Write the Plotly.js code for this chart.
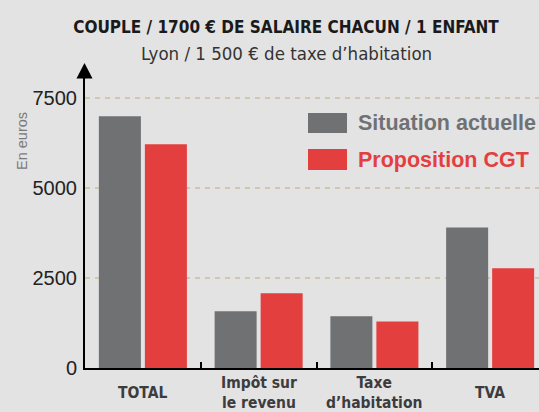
<!DOCTYPE html>
<html>
<head>
<meta charset="utf-8">
<script src="https://cdn.plot.ly/plotly-3.0.1.min.js"></script>
<style>
  html, body { margin: 0; padding: 0; background: #e3e3e3; }
  #chart { width: 539px; height: 412px; }
</style>
</head>
<body>
<div id="chart"></div>
<script>
// ---- Data ----
const categories = ["TOTAL", "Impôt sur le revenu", "Taxe d’habitation", "TVA"];
const categoryLabels = ["TOTAL", "Impôt sur<br>le revenu", "Taxe<br>d’habitation", "TVA"];
const seriesNames = ["Situation actuelle", "Proposition CGT"];
const situationActuelle = [6990, 1575, 1435, 3905];
const propositionCGT = [6215, 2075, 1295, 2770];
const yTickVals = [0, 2500, 5000, 7500];
const yTickText = ["0", "2500", "5000", "7500"];

const GRAY = "#707173";
const RED = "#e33f3f";
const NARROW = "'DejaVu Sans Condensed', 'Liberation Sans Narrow', sans-serif";

const traces = [
  { type: "bar", name: seriesNames[0], x: categories, y: situationActuelle,
    marker: { color: GRAY }, hoverinfo: "x+y" },
  { type: "bar", name: seriesNames[1], x: categories, y: propositionCGT,
    marker: { color: RED }, hoverinfo: "x+y" }
];

// helpers for paper coordinates (plot area: x 85..539, y 70..368)
const px = v => (v - 85) / 454;
const py = v => (368 - v) / 298;

const annotations = [];
categories.forEach((c, i) => {
  annotations.push({
    x: c, xref: "x", y: py(393), yref: "paper", yanchor: "middle", xanchor: "center",
    text: "<b>" + categoryLabels[i] + "</b>", showarrow: false,
    font: { family: NARROW, size: 15.5, color: "#3c3c3e" }
  });
});
// subtitle
annotations.push({
  x: px(286), xref: "paper", y: py(53), yref: "paper", xanchor: "center", yanchor: "middle",
  text: "Lyon / 1 500 € de taxe d’habitation", showarrow: false,
  font: { family: NARROW, size: 18.5, color: "#333333" }
});
// y axis title
annotations.push({
  x: px(22), xref: "paper", y: py(141), yref: "paper", xanchor: "center", yanchor: "middle",
  text: "En euros", textangle: -90, showarrow: false,
  font: { family: "'Liberation Sans', sans-serif", size: 14.5, color: "#7a7a7a" }
});
// legend texts
annotations.push({
  x: px(356), xref: "paper", y: py(123), yref: "paper", xanchor: "left", yanchor: "middle",
  text: "<b>" + seriesNames[0] + "</b>", showarrow: false,
  font: { family: "'Liberation Sans', sans-serif", size: 21.5, color: GRAY }
});
annotations.push({
  x: px(356), xref: "paper", y: py(159.5), yref: "paper", xanchor: "left", yanchor: "middle",
  text: "<b>" + seriesNames[1] + "</b>", showarrow: false,
  font: { family: "'Liberation Sans', sans-serif", size: 21.5, color: RED }
});

const shapes = [
  // legend swatches
  { type: "rect", xref: "paper", yref: "paper", x0: px(308), x1: px(347), y0: py(133), y1: py(113),
    fillcolor: GRAY, line: { width: 0 } },
  { type: "rect", xref: "paper", yref: "paper", x0: px(308), x1: px(347), y0: py(170), y1: py(149),
    fillcolor: RED, line: { width: 0 } },
  // arrowhead on y axis
  { type: "path", xref: "paper", yref: "paper",
    path: `M ${px(76.5)} ${py(78.5)} L ${px(92.5)} ${py(78.5)} L ${px(84.5)} ${py(63)} Z`,
    fillcolor: "#000000", line: { width: 0 } },
  { type: "line", xref: "paper", yref: "paper", x0: px(84.5), x1: px(84.5), y0: py(70), y1: py(78.5),
    line: { color: "#000000", width: 2 } }
];

const layout = {
  width: 539, height: 412,
  paper_bgcolor: "#e3e3e3", plot_bgcolor: "#e3e3e3",
  margin: { l: 85, r: 0, t: 70, b: 44, pad: 0 },
  showlegend: false,
  barmode: "group", bargap: 0.205, bargroupgap: 0.087,
  title: {
    text: "<b>COUPLE / 1700 € DE SALAIRE CHACUN / 1 ENFANT</b>",
    x: 286 / 539, xanchor: "center", xref: "container",
    y: 1 - 27 / 412, yanchor: "middle", yref: "container",
    font: { family: NARROW, size: 17, color: "#1a1a1a" }
  },
  xaxis: {
    type: "category", range: [-0.5, 3.422], fixedrange: true,
    showline: true, linecolor: "#000000", linewidth: 2,
    ticks: "inside", tickson: "boundaries", ticklen: 6, tickwidth: 2, tickcolor: "#000000",
    showticklabels: false, showgrid: false, zeroline: false
  },
  yaxis: {
    range: [0, 8278], fixedrange: true,
    tickvals: yTickVals, ticktext: yTickText,
    showline: true, linecolor: "#000000", linewidth: 2,
    ticks: "", ticklabelstandoff: 2,
    tickfont: { family: "'Liberation Sans', sans-serif", size: 20, color: "#222222" },
    showgrid: true, gridcolor: "#d2c7ac", gridwidth: 2, griddash: "5px,5px",
    zeroline: false
  },
  annotations: annotations,
  shapes: shapes
};

Plotly.newPlot("chart", traces, layout, { displayModeBar: false, staticPlot: true });
</script>
</body>
</html>
